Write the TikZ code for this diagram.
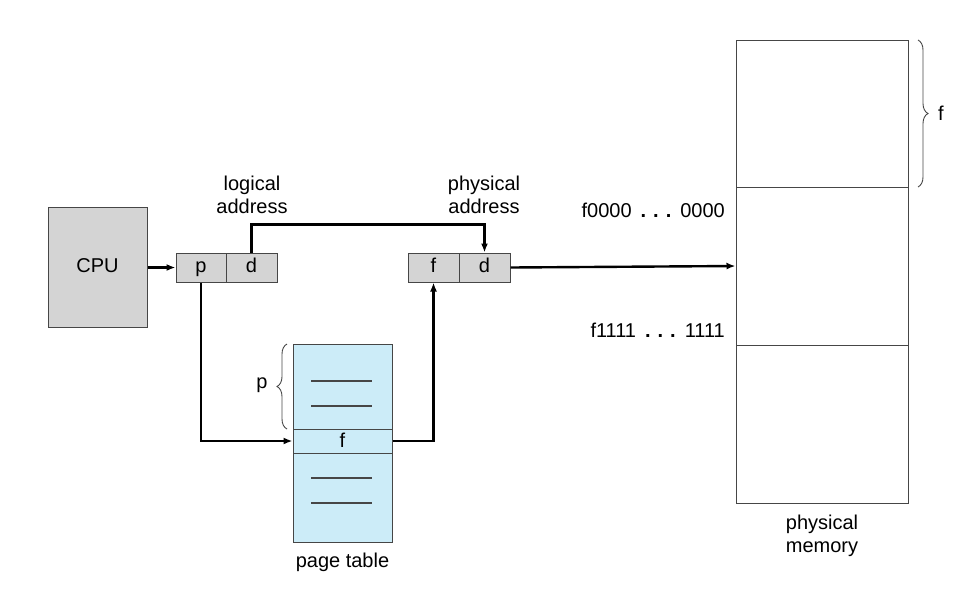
\documentclass[tikz,border=0pt]{standalone}
\usepackage{fontspec}
\setmainfont{Liberation Sans}
\usetikzlibrary{arrows.meta,decorations.pathreplacing}
\definecolor{boxgray}{RGB}{212,212,212}
\definecolor{ptblue}{RGB}{204,236,248}
\definecolor{edge}{RGB}{70,70,70}
\tikzset{
  cell/.style={draw=edge,fill=boxgray,line width=1pt,inner sep=0pt,minimum height=29pt,font=\fontsize{20}{24}\selectfont,text height=14pt,text depth=4pt},
  ptcell/.style={draw=edge,fill=ptblue,line width=1pt,inner sep=0pt,minimum width=99pt},
  memcell/.style={draw=edge,line width=1pt,inner sep=0pt,minimum width=172pt},
  lbl/.style={align=center,inner sep=0pt,font=\fontsize{20}{23.5}\selectfont},
  arr/.style={line width=2.4pt,-{Latex[length=9pt,width=7pt]}},
  brc/.style={decorate,decoration={brace,amplitude=10pt},line width=0.9pt,draw=edge}
}
\newcommand{\bigdots}{\hspace*{9pt}\textbf{.\hspace*{7pt}.\hspace*{7pt}.}\hspace*{9pt}}
\begin{document}
\begin{tikzpicture}[x=1pt,y=-1pt]
\useasboundingbox (0,0) rectangle (957,590);
% CPU
\node[cell,minimum width=99pt,minimum height=120pt] (cpu) at (97.5,267.5) {CPU};
% logical address
\node[cell,minimum width=50pt] (p) at (201,267.5) {p};
\node[cell,minimum width=51pt] (d) at (251.5,267.5) {d};
% physical address
\node[cell,minimum width=51pt] (f2) at (433.5,267.5) {f};
\node[cell,minimum width=51pt] (d2) at (484.5,267.5) {d};
\node[lbl] (la) at (252,195) {logical\\address};
\node[lbl] (pa) at (484,195) {physical\\address};
% page table
\node[ptcell,minimum height=85pt] (ptop) at (342.5,386.5) {};
\node[ptcell,minimum height=24pt,font=\fontsize{20}{24}\selectfont,text height=14pt,text depth=2pt] (frow) at (342.5,441) {f};
\node[ptcell,minimum height=89pt] (pbot) at (342.5,497.5) {};
\foreach \yy in {381,406,478,503} \draw[line width=1.1pt,draw=edge] (311,\yy) -- (372,\yy);
\node[lbl] (ptl) at (342.5,562) {page table};
% brace p
\draw[brc] (287,429) -- (287,344);
\node[lbl] (pl) at (262,385) {p};
% physical memory
\node[memcell,minimum height=147pt] (m1) at (822,113.5) {};
\node[memcell,minimum height=158pt] (m2) at (822,266) {};
\node[memcell,minimum height=158pt] (m3) at (822,424) {};
\node[lbl] (pm) at (822,536) {physical\\memory};
\draw[brc] (918,40) -- (918,187);
\node[lbl] (fl) at (941,113) {f};
\node[lbl,anchor=east] (a0) at (725,210) {f0000\bigdots0000};
\node[lbl,anchor=east] (a1) at (725,330) {f1111\bigdots1111};
% connectors
\draw[arr] (cpu.east) -- (p.west);
\draw[arr] (d.north) -- ++(0,-28) -| (d2.north);
\draw[arr] (p.south) |- (frow.west);
\draw[arr] (frow.east) -| (f2.south);
\draw[arr] (d2.east) -- (m2.west);
\end{tikzpicture}
\end{document}
